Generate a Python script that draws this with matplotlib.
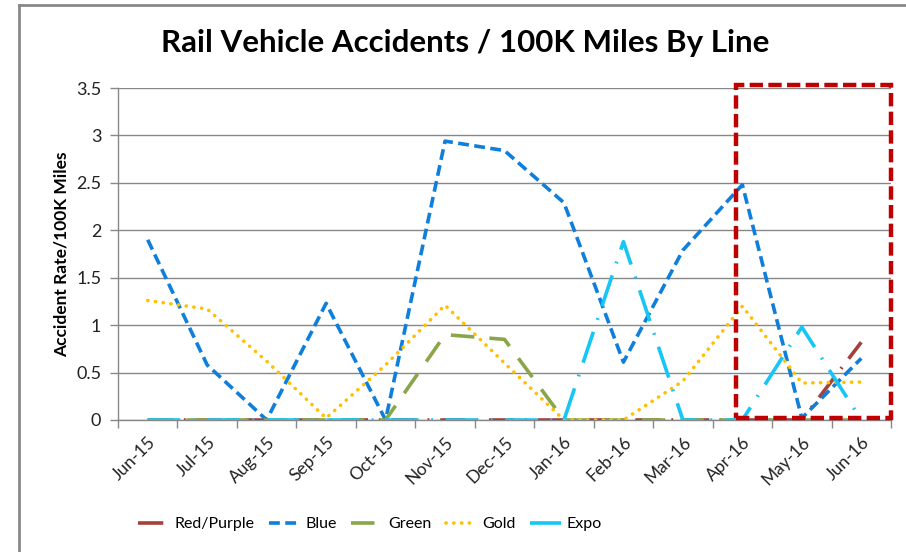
import matplotlib
matplotlib.use("Agg")
import matplotlib.pyplot as plt
from matplotlib.patches import Rectangle
from matplotlib.lines import Line2D

months = ["Jun-15", "Jul-15", "Aug-15", "Sep-15", "Oct-15", "Nov-15", "Dec-15",
          "Jan-16", "Feb-16", "Mar-16", "Apr-16", "May-16", "Jun-16"]
red_purple = [0, 0, 0, 0, 0, 0, 0, 0, 0, 0, 0, 0, 0.82]
blue = [1.90, 0.58, 0.0, 1.23, 0.0, 2.94, 2.84, 2.29, 0.61, 1.79, 2.48, 0.02, 0.65]
green = [0, 0, 0, 0, 0, 0.90, 0.85, 0, 0, 0, 0, 0, 0]
gold = [1.26, 1.17, 0.62, 0.02, 0.58, 1.21, 0.60, 0.0, 0.0, 0.41, 1.20, 0.39, 0.40]
expo = [0, 0, 0, 0, 0, 0, 0, 0, 1.88, 0, 0, 0.98, 0]
yticks = [0, 0.5, 1, 1.5, 2, 2.5, 3, 3.5]
ytick_labels = ["0", "0.5", "1", "1.5", "2", "2.5", "3", "3.5"]

plt.rcParams['font.family'] = ['Lato', 'DejaVu Sans']

W, H = 906, 552
fig = plt.figure(figsize=(W / 100, H / 100), dpi=100)
ax = fig.add_axes([118 / W, 1 - 420 / H, (891 - 118) / W, (420 - 88) / H])

x = list(range(len(months)))
lw = 2.6
series = [
    ("Red/Purple", red_purple, "#A5403D", (7, 3, 0.5, 3), "butt"),
    ("Blue", blue, "#0F7FDC", (3.0, 1.5), "butt"),
    ("Green", green, "#8AA54A", (6.5, 4.2), "butt"),
    ("Gold", gold, "#FFC000", (0.05, 2.1), "round"),
    ("Expo", expo, "#17C6F4", (9, 3.5, 0.5, 3.5), "butt"),
]
handles = []
for name, vals, color, dashes, cap in series:
    ln, = ax.plot(x, vals, color=color, lw=lw, dashes=dashes,
                  dash_capstyle=cap, solid_joinstyle='round', label=name, zorder=3)
    handles.append(ln)

ax.set_xlim(-0.5, len(months) - 0.5)
ax.set_ylim(0, 3.5)
ax.set_yticks(yticks)
ax.set_yticklabels(ytick_labels)
ax.set_xticks(x)
ax.set_xticklabels(months, rotation=45, ha='right', rotation_mode='anchor')
ax.set_xticks([i - 0.5 for i in range(len(months) + 1)], minor=True)
ax.tick_params(axis='x', which='major', length=0, pad=10, labelsize=12.5, colors='#222222')
ax.tick_params(axis='x', which='minor', length=6, color='#888888', width=1)
ax.tick_params(axis='y', length=6, color='#888888', width=1, labelsize=13,
               colors='#222222', pad=6)
ax.grid(axis='y', color='#888888', lw=1)
ax.set_axisbelow(True)
for s in ['top', 'right']:
    ax.spines[s].set_visible(False)
ax.spines['left'].set_color('#888888')
ax.spines['bottom'].set_color('#888888')
ax.spines['left'].set_linewidth(1)
ax.spines['bottom'].set_linewidth(1)

ax.set_ylabel("Accident Rate/100K Miles", fontsize=12.5, fontweight='bold', labelpad=5)
fig.text(465 / W, 1 - 43 / H, "Rail Vehicle Accidents / 100K Miles By Line",
         ha='center', va='center', fontsize=22.5, fontweight='bold')

# highlight box
box = Rectangle((9.9, 0.02), 12.5 - 9.9, 3.53 - 0.02, fill=False, edgecolor='#C00000',
                lw=3.2, linestyle=(0, (3, 1.2)), clip_on=False, zorder=5)
ax.add_patch(box)

# chart frame (partially visible)
fig.add_artist(Line2D([19 / W, 19 / W], [0, 1 - 5 / H], color='#888888', lw=2))
fig.add_artist(Line2D([19 / W, 1], [1 - 5 / H, 1 - 5 / H], color='#888888', lw=2))

fig.legend(handles=handles, loc='center', bbox_to_anchor=(370 / W, 1 - 524 / H),
           ncol=5, frameon=False, fontsize=11.5, handlelength=1.9, columnspacing=0.9,
           handletextpad=0.4)

fig.savefig("out.png", dpi=100)
